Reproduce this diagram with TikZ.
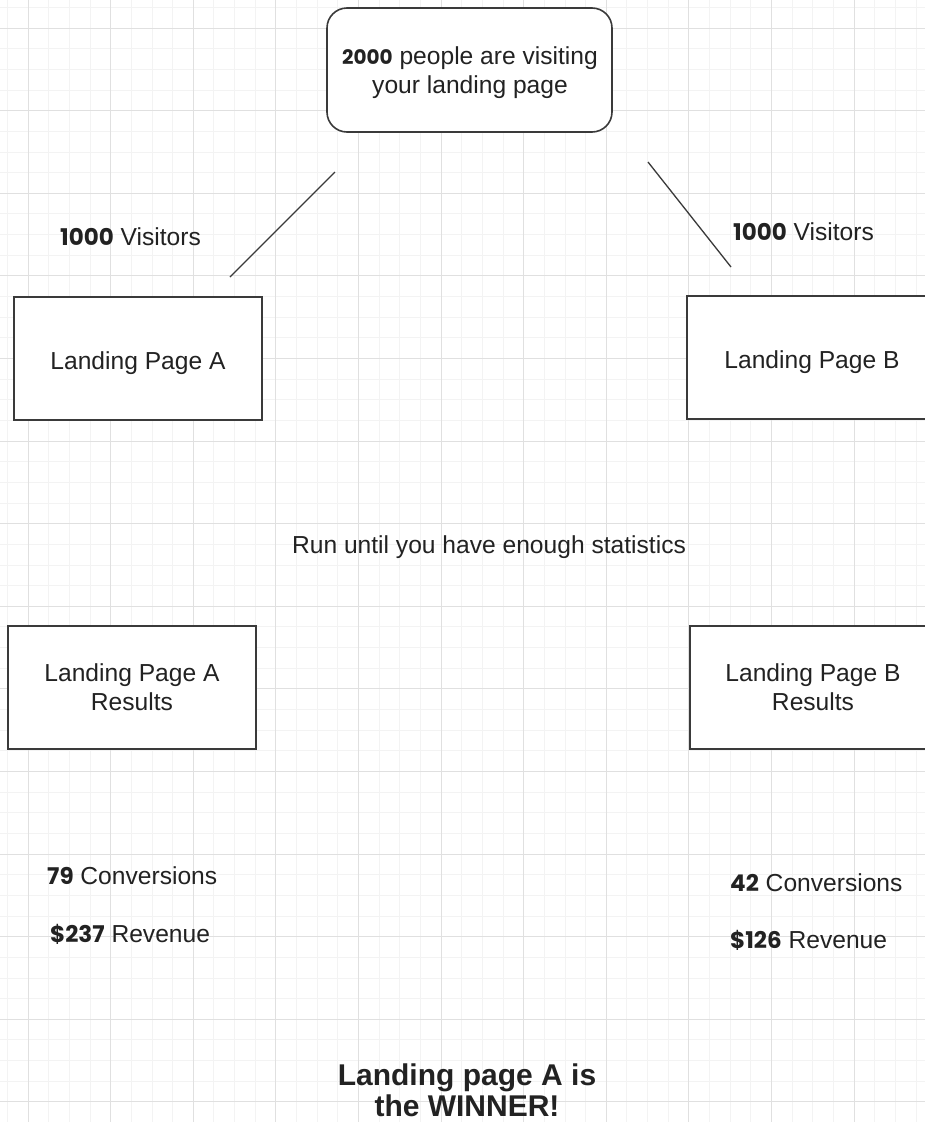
\documentclass[tikz,border=0pt]{standalone}
\usepackage{fontspec}
\setmainfont{Liberation Sans}
\newfontfamily\numfont{Poppins}
\definecolor{gridmajor}{HTML}{E0E0E0}
\definecolor{gridminor}{HTML}{F3F3F3}
\definecolor{ink}{HTML}{222222}
\definecolor{edge}{HTML}{3A3A3A}
\tikzset{
  minorg/.style={draw=gridminor, line width=0.8pt},
  majorg/.style={draw=gridmajor, line width=1pt},
  pagebox/.style={draw=edge, line width=1.6pt, fill=white, minimum width=248pt, minimum height=123pt, align=center, text=ink, inner sep=0pt},
  onebox/.style={pagebox, text height=26pt, text depth=5pt},
  topbox/.style={draw=edge, line width=1.6pt, fill=white, rounded corners=20pt, minimum width=285pt, minimum height=124pt, inner sep=0pt},
  lbl/.style={text=ink, inner sep=0pt, align=center}
}
\tikzset{connector/.style={draw=edge, line width=1.3pt}}
\newcommand{\nbig}[1]{{\numfont\bfseries\fontsize{23}{29}\selectfont #1}}
\begin{document}
\begin{tikzpicture}[x=1pt,y=-1pt,font=\fontsize{24.6}{29}\selectfont]
\clip (0,0) rectangle (925,1122);
\fill[white] (0,0) rectangle (925,1122);
% grid
\foreach \i in {0,...,46} {
  \pgfmathsetmacro\gx{28+(\i-2)*20.65}
  \draw[minorg] (\gx,0) -- (\gx,1122);
}
\foreach \i in {0,...,56} {
  \pgfmathsetmacro\gy{28+(\i-2)*20.65}
  \draw[minorg] (0,\gy) -- (925,\gy);
}
\foreach \k in {0,...,11} {
  \pgfmathsetmacro\gx{28+\k*82.6}
  \draw[majorg] (\gx,0) -- (\gx,1122);
}
\foreach \k in {0,...,13} {
  \pgfmathsetmacro\gy{28+\k*82.6}
  \draw[majorg] (0,\gy) -- (925,\gy);
}
% nodes
\node[topbox] (top) at (469.5,70) {};
\node[lbl] (toptext) at (470,73) {{\numfont\bfseries\fontsize{20}{29}\selectfont 2000} people are visiting\\your landing page};
\node[onebox] (pa) at (138,358.5) {Landing Page A};
\node[onebox, minimum width=250pt] (pb) at (812,357.5) {Landing Page B};
\node[pagebox] (ra) at (132,687.5) {Landing Page A\\Results};
\node[pagebox, minimum width=246pt] (rb) at (813,687.5) {Landing Page B\\Results};
% connectors
\coordinate (la1) at (335,172);
\coordinate (la2) at (230,277);
\coordinate (lb1) at (648,162);
\coordinate (lb2) at (731,267);
\draw[connector] (la1) -- (la2);
\draw[connector] (lb1) -- (lb2);
% labels
\node[lbl, anchor=west] (va) at (60,237) {\nbig{1000} Visitors};
\node[lbl, anchor=west] (vb) at (733,232) {\nbig{1000} Visitors};
\node[lbl] (run) at (489,547) {Run until you have enough statistics};
\node[lbl, anchor=west] (ca) at (47,876) {\nbig{79} Conversions};
\node[lbl, anchor=west] (reva) at (50,934) {\nbig{\$237} Revenue};
\node[lbl, anchor=west] (cb) at (730,883) {\nbig{42} Conversions};
\node[lbl, anchor=west] (revb) at (730,940) {\nbig{\$126} Revenue};
\node[lbl, font=\bfseries\fontsize{30}{31}\selectfont] (win) at (467,1090) {Landing page A is\\the WINNER!};
\end{tikzpicture}
\end{document}
